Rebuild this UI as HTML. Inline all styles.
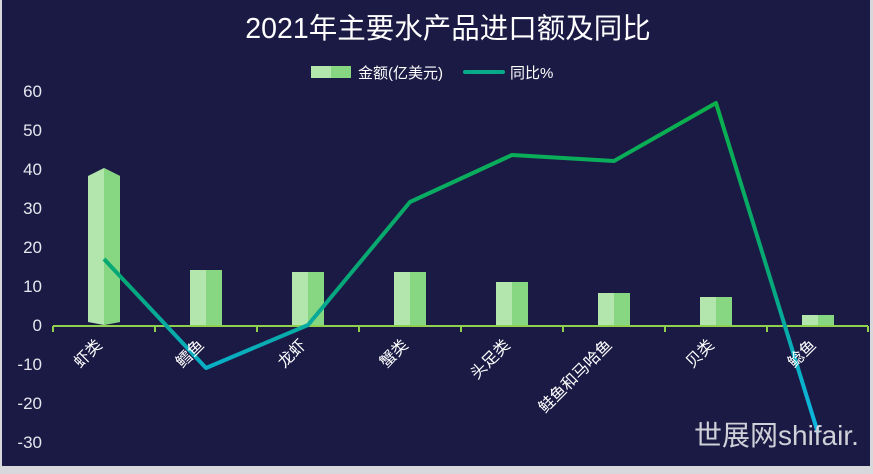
<!DOCTYPE html>
<html><head><meta charset="utf-8"><style>
html,body{margin:0;padding:0;background:#fff}
svg{display:block;font-family:"Liberation Sans","Noto Sans CJK SC",sans-serif}
</style></head><body>
<svg width="873" height="474" viewBox="0 0 873 474">
<defs>
<linearGradient id="lg" gradientUnits="userSpaceOnUse" x1="0" y1="100" x2="0" y2="440">
<stop offset="0" stop-color="#0bb04a"/><stop offset="0.55" stop-color="#06a77a"/><stop offset="0.75" stop-color="#08aebf"/><stop offset="1" stop-color="#10b8e6"/>
</linearGradient>
</defs>
<rect x="0" y="0" width="873" height="474" fill="#d8d8dc"/>
<rect x="2" y="0" width="868" height="466" fill="#1b1a45"/>
<text x="448" y="38" fill="#fff" font-size="28.5" text-anchor="middle">2021年主要水产品进口额及同比</text>
<rect x="311" y="66" width="20" height="12" fill="#b3e6ad"/><rect x="331" y="66" width="20" height="12" fill="#86d682"/>
<text x="358" y="78" fill="#fff" font-size="15">金额(亿美元)</text>
<rect x="463" y="70" width="42" height="4" rx="2" fill="#08aa8a"/>
<text x="510" y="78" fill="#fff" font-size="15">同比%</text>
<g fill="#e6e6ee" font-size="17" text-anchor="end">
<text x="42" y="97">60</text><text x="42" y="136">50</text><text x="42" y="175">40</text><text x="42" y="214">30</text><text x="42" y="253">20</text><text x="42" y="292">10</text><text x="42" y="331">0</text><text x="42" y="370">-10</text><text x="42" y="409">-20</text><text x="42" y="448">-30</text>
</g>
<g>
<path d="M88 176 L104 168 L120 176 L120 322 L104 325 L88 322Z" fill="#b3e6ad"/><path d="M104 168 L120 176 L120 322 L104 325Z" fill="#86d682"/>
<rect x="190" y="270" width="32" height="55" fill="#b3e6ad"/><rect x="206" y="270" width="16" height="55" fill="#86d682"/>
<rect x="292" y="272" width="32" height="53" fill="#b3e6ad"/><rect x="308" y="272" width="16" height="53" fill="#86d682"/>
<rect x="394" y="272" width="32" height="53" fill="#b3e6ad"/><rect x="410" y="272" width="16" height="53" fill="#86d682"/>
<rect x="496" y="282" width="32" height="43" fill="#b3e6ad"/><rect x="512" y="282" width="16" height="43" fill="#86d682"/>
<rect x="598" y="293" width="32" height="32" fill="#b3e6ad"/><rect x="614" y="293" width="16" height="32" fill="#86d682"/>
<rect x="700" y="297" width="32" height="28" fill="#b3e6ad"/><rect x="716" y="297" width="16" height="28" fill="#86d682"/>
<rect x="802" y="315" width="32" height="10" fill="#b3e6ad"/><rect x="818" y="315" width="16" height="10" fill="#86d682"/>
</g>
<path d="M53 326 H868 M53 326 V332 M155 326 V332 M257 326 V332 M359 326 V332 M461 326 V332 M563 326 V332 M665 326 V332 M767 326 V332 M868 326 V332" stroke="#8fd14f" stroke-width="2" fill="none"/>
<polyline points="104,259 206,368 308,325 410,202 512,155 614,161 716,103 818,433" fill="none" stroke="url(#lg)" stroke-width="4" stroke-linejoin="round"/>
<g fill="#fff" font-size="16" text-anchor="end">
<text transform="translate(103,346) rotate(-45)">虾类</text>
<text transform="translate(205,346) rotate(-45)">鳕鱼</text>
<text transform="translate(307,346) rotate(-45)">龙虾</text>
<text transform="translate(409,346) rotate(-45)">蟹类</text>
<text transform="translate(511,346) rotate(-45)">头足类</text>
<text transform="translate(613,346) rotate(-45)">鲑鱼和马哈鱼</text>
<text transform="translate(715,346) rotate(-45)">贝类</text>
<text transform="translate(817,346) rotate(-45)">鲶鱼</text>
</g>
<text x="694" y="445" fill="#d0d0d8" font-size="28">世展网shifair.</text>
</svg>
</body></html>
